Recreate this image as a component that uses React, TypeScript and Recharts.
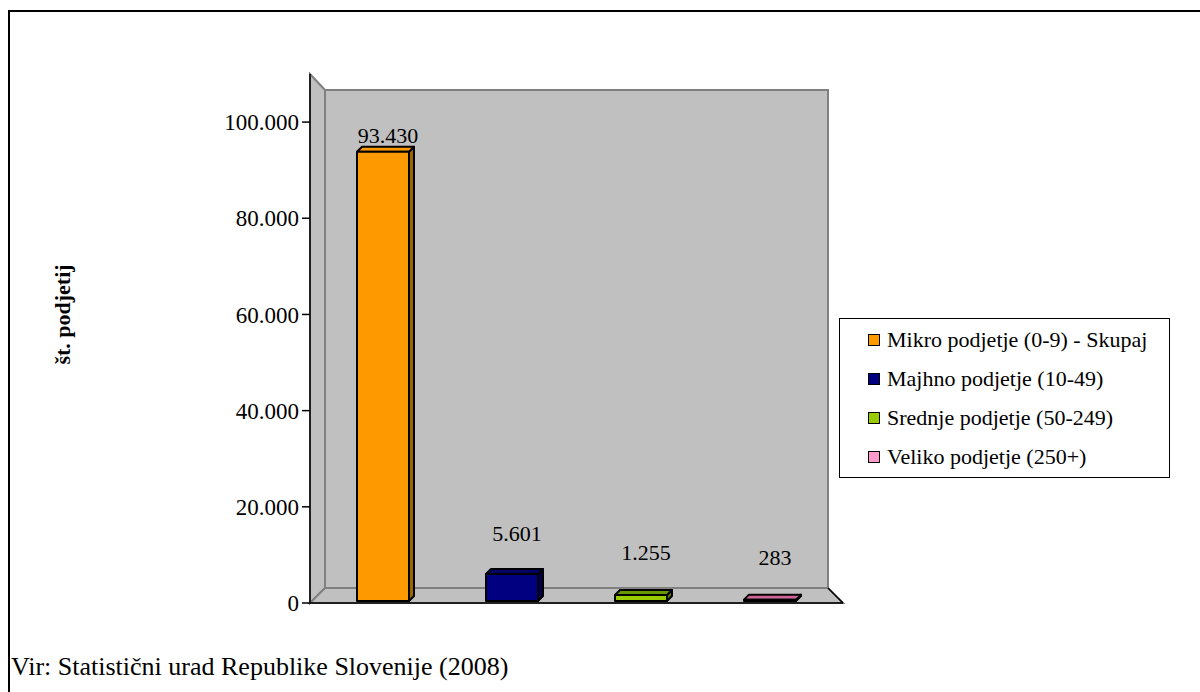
import React from "react"
import {
  BarChart,
  Bar,
  XAxis,
  YAxis,
  Legend,
  LabelList,
  ReferenceArea,
  Label,
} from "recharts"

const categories = ["2008"]
const seriesKeys = ["mikro", "majhno", "srednje", "veliko"]
const seriesNames = [
  "Mikro podjetje (0-9) - Skupaj",
  "Majhno podjetje (10-49)",
  "Srednje podjetje (50-249)",
  "Veliko podjetje (250+)",
]
const seriesValues = [93430, 5601, 1255, 283]
const yTicks = [0, 20000, 40000, 60000, 80000, 100000]
const yMax = 110000

// excel 3D shades: front / top / side
const shades = [
  { front: "#FF9900", top: "#FF9900", side: "#996600" },
  { front: "#000080", top: "#000066", side: "#00004d" },
  { front: "#99CC00", top: "#669900", side: "#5c7a00" },
  { front: "#FF99CC", top: "#CC6699", side: "#995078" },
]

const data = categories.map((name) => {
  const row: Record<string, any> = { name }
  seriesKeys.forEach((k, i) => {
    row[k] = seriesValues[i]
  })
  return row
})

const FONT = "Liberation Serif, Tinos, DejaVu Serif, serif"
const W = 1200
const H = 692
const MARGIN = { top: 74, right: 357, bottom: 89, left: 10 }
const Y_AXIS_W = 300
const PLOT_H = H - MARGIN.top - MARGIN.bottom
const DEPTH_X = 15
const DEPTH_TOP = 16
const DEPTH_BOTTOM = 15

const fmt = (v: number) =>
  String(Math.round(v)).replace(/\B(?=(\d{3})+(?!\d))/g, ".")

function Walls(props: any) {
  const { x, y, width, height } = props
  const x0 = x
  const x1 = x + width
  const y0 = y
  const y1 = y + height
  const bx0 = x0 + DEPTH_X
  const bx1 = x1 - DEPTH_X
  const by0 = y0 + DEPTH_TOP
  const by1 = y1 - DEPTH_BOTTOM
  return (
    <g>
      <polygon
        points={`${bx0},${by0} ${bx1},${by0} ${bx1},${by1} ${bx0},${by1}`}
        fill="#C0C0C0"
        stroke="#808080"
        strokeWidth={2}
      />
      <polygon
        points={`${x0},${y0} ${bx0},${by0} ${bx0},${by1} ${x0},${y1}`}
        fill="#C0C0C0"
        stroke="#808080"
        strokeWidth={2}
      />
      <polygon
        points={`${x0},${y1} ${bx0},${by1} ${bx1},${by1} ${x1},${y1}`}
        fill="#C0C0C0"
        stroke="#808080"
        strokeWidth={2}
      />
      <line x1={x0} y1={y1} x2={x1} y2={y1} stroke="#000" strokeWidth={1.5} />
      <line x1={bx1} y1={by1} x2={x1} y2={y1} stroke="#000" strokeWidth={1.5} />
    </g>
  )
}

function Box3D(props: any) {
  const { x, y, width, height, shade } = props
  if (x == null || y == null) return null
  const dx = 5
  const dy = 5
  const lift = 2
  const h = Math.max(height, 1)
  const top = y - lift
  const bottom = top + h
  const r = x + width
  return (
    <g stroke="#000" strokeWidth={2} strokeLinejoin="round">
      <polygon
        points={`${r},${top} ${r + dx},${top - dy} ${r + dx},${bottom - dy} ${r},${bottom}`}
        fill={shade.side}
      />
      <polygon
        points={`${x},${top} ${x + dx},${top - dy} ${r + dx},${top - dy} ${r},${top}`}
        fill={shade.top}
      />
      <rect x={x} y={top} width={width} height={h} fill={shade.front} />
    </g>
  )
}

// label sits above the bar top projected on the back wall, like excel does
function BarLabel(props: any) {
  const { x, y, width, height, value } = props
  const bottom = y + height
  const backTop =
    bottom - DEPTH_BOTTOM - height * ((PLOT_H - DEPTH_TOP - DEPTH_BOTTOM) / PLOT_H)
  return (
    <text
      x={x + width / 2 + 5}
      y={backTop - 22}
      textAnchor="middle"
      style={{ fontFamily: FONT }}
      fontSize={22}
      fill="#000"
    >
      {fmt(value)}
    </text>
  )
}

function LegendBox() {
  return (
    <div
      style={{
        width: 331,
        height: 160,
        boxSizing: "border-box",
        border: "1px solid #000",
        background: "#fff",
        paddingTop: 1,
        fontFamily: FONT,
        fontSize: 22,
        color: "#000",
      }}
    >
      {seriesNames.map((name, i) => (
        <div
          key={name}
          style={{
            display: "flex",
            alignItems: "center",
            height: 39,
            paddingLeft: 28,
            whiteSpace: "nowrap",
          }}
        >
          <span
            style={{
              display: "inline-block",
              width: 10,
              height: 10,
              border: "1.5px solid #000",
              background: shades[i].front,
              marginRight: 7,
            }}
          />
          {name}
        </div>
      ))}
    </div>
  )
}

export default function App() {
  return (
    <div
      style={{
        position: "absolute",
        left: 0,
        top: 0,
        width: W,
        height: H,
        overflow: "hidden",
        background: "#fff",
        fontFamily: FONT,
      }}
    >
      <div
        style={{
          position: "absolute",
          left: 8,
          top: 10,
          width: 1300,
          height: 800,
          borderTop: "2px solid #000",
          borderLeft: "2px solid #000",
        }}
      />
      <div style={{ position: "absolute", left: 0, top: 0 }}>
        <BarChart
          width={W}
          height={H}
          data={data}
          margin={MARGIN}
          barSize={52}
          barGap={77}
          style={{ fontFamily: FONT }}
        >
          <XAxis dataKey="name" hide />
          <YAxis
            width={Y_AXIS_W}
            domain={[0, yMax]}
            ticks={yTicks}
            interval={0}
            tickFormatter={fmt}
            tick={{ fill: "#000", fontSize: 23, style: { fontFamily: FONT } }}
            axisLine={{ stroke: "#000", strokeWidth: 1.5 }}
            tickLine={{ stroke: "#000", strokeWidth: 1.5 }}
            tickSize={8}
            tickMargin={3}
          >
            <Label
              content={(p: any) => {
                const vb = p.viewBox || {}
                const cx = vb.x + 52
                const cy = vb.y + vb.height / 2 - 24
                return (
                  <text
                    x={cx}
                    y={cy}
                    transform={`rotate(-90, ${cx}, ${cy})`}
                    textAnchor="middle"
                    dominantBaseline="central"
                    style={{ fontFamily: FONT }}
                    fontSize={22}
                    fontWeight="bold"
                    fill="#000"
                  >
                    št. podjetij
                  </text>
                )
              }}
            />
          </YAxis>
          <ReferenceArea
            y1={0}
            y2={yMax}
            zIndex={-100}
            shape={(p: any) => <Walls {...p} />}
          />
          {seriesKeys.map((key, i) => (
            <Bar
              key={key}
              dataKey={key}
              name={seriesNames[i]}
              fill={shades[i].front}
              isAnimationActive={false}
              shape={(p: any) => <Box3D {...p} shade={shades[i]} />}
            >
              <LabelList dataKey={key} content={(p: any) => <BarLabel {...p} />} />
            </Bar>
          ))}
          <Legend
            layout="horizontal"
            align="center"
            verticalAlign="middle"
            wrapperStyle={{ left: 839, top: 318, width: 331, height: 160 }}
            content={() => <LegendBox />}
          />
        </BarChart>
      </div>
      <div
        style={{
          position: "absolute",
          left: 11,
          top: 652,
          fontSize: 26,
          color: "#000",
          whiteSpace: "nowrap",
        }}
      >
        Vir: Statistični urad Republike Slovenije (2008)
      </div>
    </div>
  )
}
